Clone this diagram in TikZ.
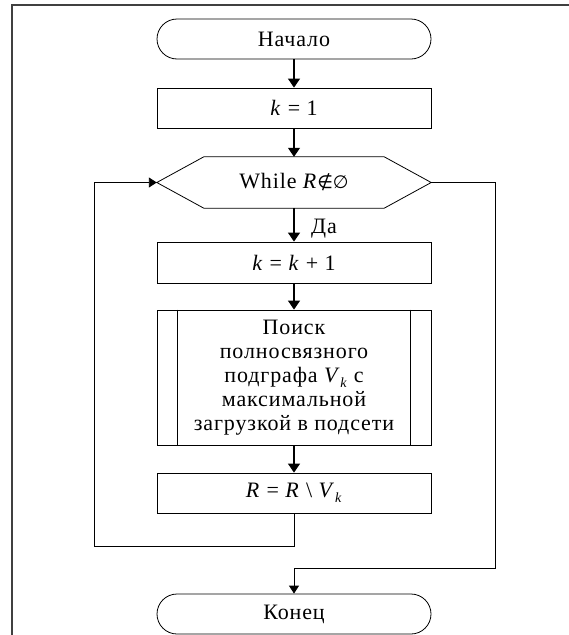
\documentclass[tikz,border=0pt]{standalone}
\usepackage{fontspec}
\setmainfont{Liberation Serif}[LetterSpace=4]
\newfontfamily\symfnt{DejaVu Sans}
\usetikzlibrary{arrows.meta,calc}
\newcommand{\subk}{\raisebox{-0.22em}{\fontsize{14}{14}\selectfont\textit{k}}}
\tikzset{
  txt/.style={font=\fontsize{22}{24}\selectfont},
  box/.style={draw, line width=0.8pt, minimum width=274pt, inner sep=0pt, align=center, txt},
  term/.style={box, rounded corners=20pt},
  arr/.style={-{Triangle[length=9pt,width=12pt]}, line width=1.1pt},
  arrs/.style={-{Triangle[length=8pt,width=10pt]}, line width=0.9pt},
  ln/.style={line width=0.8pt}
}
\begin{document}
\begin{tikzpicture}[x=1pt,y=-1pt]
\useasboundingbox (0,0) rectangle (569,635);
\draw[line width=1.5pt, black!75] (12,635) -- (12,5) -- (569,5);

\node[term, minimum height=40pt] (start) at (294,39) {Начало};
\node[box, minimum height=40pt] (k1) at (294,108) {\textit{k} = 1};
\node[minimum width=274pt, minimum height=51pt, inner sep=0pt, txt] (hex) at (294,182.5) {While \textit{R}{\symfnt\fontsize{18}{20}\selectfont ∉∅}};
\draw[ln] (hex.west) -- ($(hex.north west)+(47,0)$) -- ($(hex.north east)+(-47,0)$) -- (hex.east) -- ($(hex.south east)+(-47,0)$) -- ($(hex.south west)+(47,0)$) -- cycle;
\node[txt, anchor=base west, inner sep=0pt] (yes) at (311,233) {Да};
\node[box, minimum height=41pt] (k2) at (294,262.5) {\textit{k} = \textit{k} + 1};
\node[box, minimum height=135pt] (sub) at (294,377.5) {Поиск\\полносвязного\\подграфа \textit{V}\subk{} с\\максимальной\\загрузкой в подсети};
\draw[ln] ($(sub.north west)+(21,0)$) -- ($(sub.south west)+(21,0)$);
\draw[ln] ($(sub.north east)+(-21,0)$) -- ($(sub.south east)+(-21,0)$);
\node[box, minimum height=40pt] (r) at (294,493) {\textit{R} = \textit{R} \textbackslash\ \textit{V}\subk};
\node[term, minimum height=40pt] (end) at (294,614) {Конец};

\coordinate (lb) at (94,546);
\coordinate (rb) at (495,568);
\draw[arr] (start.south) -- (k1.north);
\draw[arr] (k1.south) -- (hex.north);
\draw[arr] (hex.south) -- (k2.north);
\draw[arr] (k2.south) -- (sub.north);
\draw[arr] (sub.south) -- (r.north);
\draw[arrs] (r.south) |- (lb) |- (hex.west);
\draw[arrs] (hex.east) -| (rb) -| (end.north);
\end{tikzpicture}
\end{document}
